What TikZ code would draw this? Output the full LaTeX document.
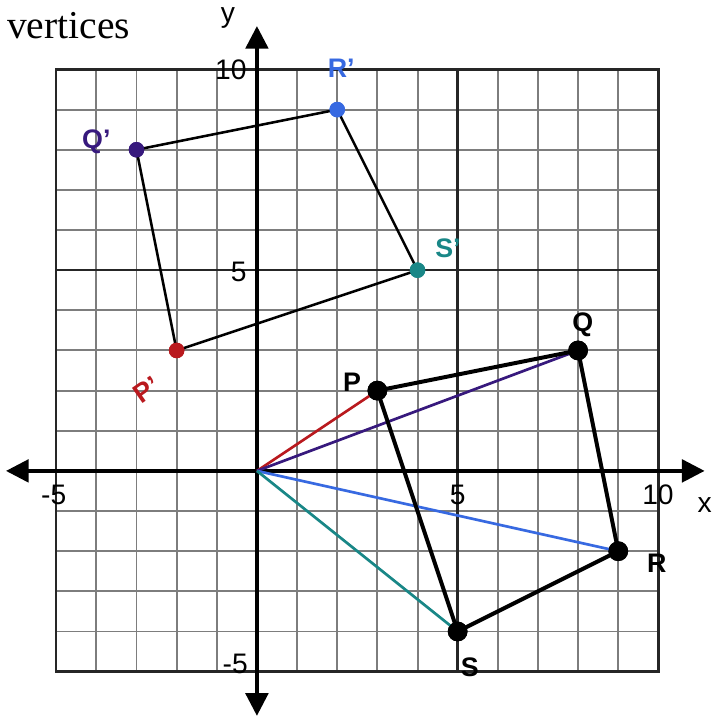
\documentclass[tikz,border=0pt]{standalone}
\usepackage{fontspec}
\setmainfont{Liberation Serif}
\setsansfont{Liberation Sans}
\usetikzlibrary{arrows.meta}
\definecolor{pred}{RGB}{185,25,30}
\definecolor{qind}{RGB}{55,25,125}
\definecolor{rblue}{RGB}{55,105,225}
\definecolor{steal}{RGB}{25,135,135}
\definecolor{gridgray}{RGB}{125,125,125}
\tikzset{
  minorgrid/.style={draw=gridgray, line width=1.4pt},
  majorgrid/.style={draw=black!85, line width=1.7pt},
  axisline/.style={line width=2.4pt, -{Triangle[length=16pt,width=16pt]}},
  ticklab/.style={font=\sffamily\fontsize{20}{24}\selectfont, inner sep=0pt},
  bigdot/.style={circle, fill=black, inner sep=0pt, minimum size=14pt},
  smalldot/.style={circle, inner sep=0pt, minimum size=11pt},
  origedge/.style={line width=2.8pt, draw=black, line cap=round},
  primeedge/.style={line width=1.8pt, draw=black, line cap=round},
  ray/.style={line width=1.9pt},
  ptlab/.style={font=\sffamily\bfseries\fontsize{19}{22}\selectfont, inner sep=0pt},
}
\begin{document}
\begin{tikzpicture}[x=1cm,y=1cm]
\useasboundingbox[fill=white] (-6.40,-6.13) rectangle (11.33,11.73);
% grid
\foreach \i in {-4,-3,-2,-1,1,2,3,4,6,7,8,9} {
  \draw[minorgrid] (\i,-5) -- (\i,10);
  \draw[minorgrid] (-5,\i) -- (10,\i);
}
\draw[majorgrid] (5,-5) -- (5,10);
\draw[majorgrid] (-5,5) -- (10,5);
\draw[majorgrid] (-5,-5) rectangle (10,10);
% axes
\coordinate (xl) at (-6.25,0);
\coordinate (xr) at (11.15,0);
\coordinate (yb) at (0,-6.10);
\coordinate (yt) at (0,11.08);
\draw[axisline] (0,0) -- (xr);
\draw[axisline] (0,0) -- (xl);
\draw[axisline] (0,0) -- (yt);
\draw[axisline] (0,0) -- (yb);
\node[ticklab] (xlab) at (11.15,-0.85) {x};
\node[ticklab] (ylab) at (-0.72,11.28) {y};
\node[ticklab] (tx1) at (-5.06,-0.6) {-5};
\node[ticklab] (tx2) at (5.0,-0.6) {5};
\node[ticklab] (tx3) at (9.99,-0.6) {10};
\node[ticklab, anchor=east] (ty1) at (-0.25,10.0) {10};
\node[ticklab, anchor=east] (ty2) at (-0.25,4.95) {5};
\node[ticklab, anchor=east] (ty3) at (-0.22,-4.82) {-5};
% title
\node[anchor=base west, inner sep=0pt, font=\fontsize{28}{32}\selectfont] (title) at (-6.23,10.78) {vertices};
% points
\coordinate (O) at (0,0);
\node[bigdot] (P) at (3,2) {};
\node[bigdot] (Q) at (8,3) {};
\node[bigdot] (R) at (9,-2) {};
\node[bigdot] (S) at (5,-4) {};
\node[smalldot, fill=pred] (P1) at (-2,3) {};
\node[smalldot, fill=qind] (Q1) at (-3,8) {};
\node[smalldot, fill=rblue] (R1) at (2,9) {};
\node[smalldot, fill=steal] (S1) at (4,5) {};
% rays
\draw[ray, draw=pred] (O) -- (P.center);
\draw[ray, draw=qind] (O) -- (Q.center);
\draw[ray, draw=rblue] (O) -- (R.center);
\draw[ray, draw=steal] (O) -- (S.center);
% quadrilaterals
\draw[origedge] (P.center) -- (Q.center) -- (R.center) -- (S.center) -- cycle;
\draw[primeedge] (P1.center) -- (Q1.center) -- (R1.center) -- (S1.center) -- cycle;
\node[bigdot] at (P) {};
\node[bigdot] at (Q) {};
\node[bigdot] at (R) {};
\node[bigdot] at (S) {};
\node[smalldot, fill=pred] at (P1) {};
\node[smalldot, fill=qind] at (Q1) {};
\node[smalldot, fill=rblue] at (R1) {};
\node[smalldot, fill=steal] at (S1) {};
% labels
\node[ptlab] (lP) at (2.37,2.22) {P};
\node[ptlab] (lQ) at (8.12,3.64) {Q};
\node[ptlab] (lR) at (9.96,-2.29) {R};
\node[ptlab] (lS) at (5.3,-4.88) {S};
\node[ptlab, text=qind] (lQ1) at (-4.0,8.19) {Q'};
\node[ptlab, text=rblue] (lR1) at (2.1,10.04) {R'};
\node[ptlab, text=steal] (lS1) at (4.76,5.55) {S'};
\node[ptlab, text=pred, rotate=35] (lP1) at (-2.74,2.02) {P'};
\end{tikzpicture}
\end{document}
